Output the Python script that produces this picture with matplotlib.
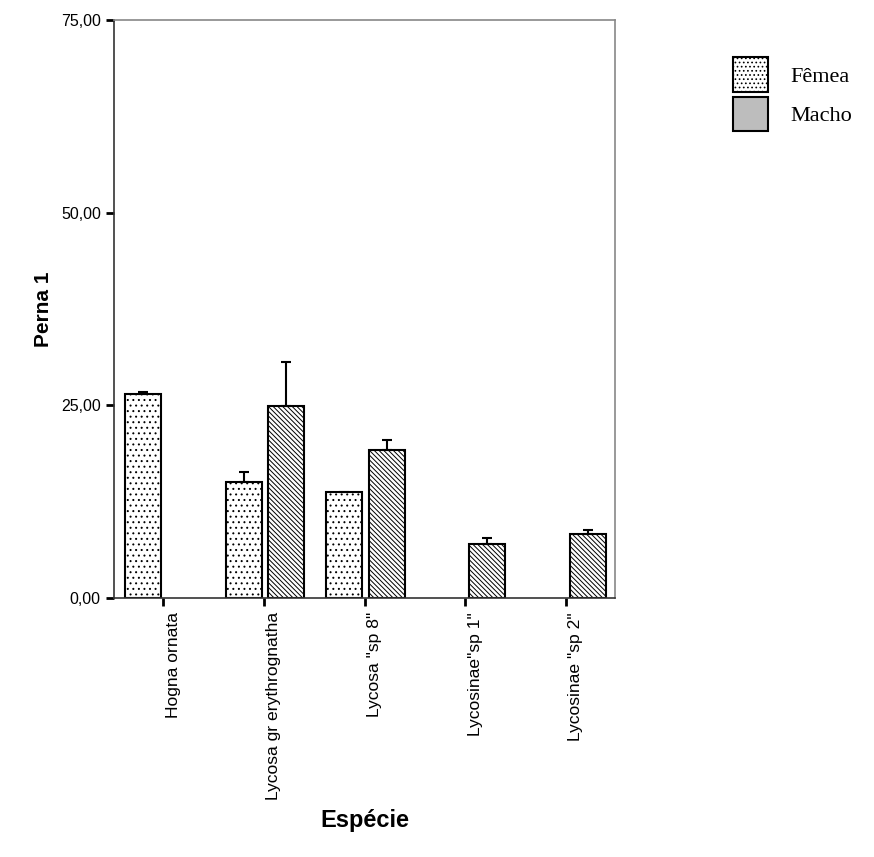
import numpy as np
import matplotlib
matplotlib.use("Agg")
import matplotlib.pyplot as plt
from matplotlib.patches import Patch
import matplotlib.transforms as mtransforms

especies = ["Hogna ornata", "Lycosa gr erythrognatha", 'Lycosa "sp 8"',
            'Lycosinae"sp 1"', 'Lycosinae "sp 2"']
femea = [26.5, 15.0, 13.7, np.nan, np.nan]
femea_err = [0.2, 1.3, np.nan, np.nan, np.nan]
macho = [np.nan, 24.9, 19.2, 7.0, 8.3]
macho_err = [np.nan, 5.7, 1.3, 0.8, 0.5]
yticks = [0, 25, 50, 75]

plt.rcParams["hatch.linewidth"] = 0.7
fig = plt.figure(figsize=(8.74, 8.57), dpi=100)
ax = fig.add_axes([0.1304, 0.3022, 0.5733, 0.6744])

x = np.arange(len(especies))
w = 0.36
xf, xm = x - 0.2, x + 0.22
ax.bar(xf, femea, w, color="white", edgecolor="black", hatch="...", linewidth=1.5)
ax.bar(xm, macho, w, color="white", edgecolor="black", hatch="\\" * 7, linewidth=1.5)
for xs, v, e in [(xf, femea, femea_err), (xm, macho, macho_err)]:
    v = np.array(v); e = np.array(e)
    ax.errorbar(xs, v, yerr=[np.zeros_like(e), e], fmt="none", ecolor="black",
                elinewidth=1.5, capsize=3.5, capthick=1.5)

ax.set_xlim(-0.49, 4.49)
ax.set_ylim(0, 75)
ax.set_yticks(yticks)
ax.set_yticklabels([f"{t:.2f}".replace(".", ",") for t in yticks],
                   fontsize=11.5, family="Liberation Sans")
ax.set_xticks(x)
ax.set_xticklabels([])
off = mtransforms.ScaledTranslation(10 / 100, -14 / 100, fig.dpi_scale_trans)
for xi, name in zip(x, especies):
    ax.text(xi, 0, name, rotation=90, fontsize=12.6, family="Liberation Sans",
            ha="center", va="top",
            transform=ax.get_xaxis_transform() + off)
ax.tick_params(axis="both", direction="out", length=6, width=2, colors="black")
for s in ["left", "bottom"]:
    ax.spines[s].set_color("#333333"); ax.spines[s].set_linewidth(1.2)
for s in ["top", "right"]:
    ax.spines[s].set_color("#888888"); ax.spines[s].set_linewidth(1.2)

ax.set_ylabel("Perna 1", fontsize=15, fontweight="bold", family="Liberation Sans",
              labelpad=6)
fig.text(0.418, 0.043, "Espécie", fontsize=17, fontweight="bold",
         family="Liberation Sans", ha="center", va="center")

handles = [Patch(facecolor="white", edgecolor="black", hatch="....", linewidth=1.5),
           Patch(facecolor="#bdbdbd", edgecolor="black", linewidth=1.5)]
fig.legend(handles, ["Fêmea", "Macho"], loc="upper left",
           bbox_to_anchor=(0.839, 0.933), frameon=False,
           prop={"family": "Liberation Serif", "size": 16},
           handlelength=1.55, handleheight=2.0, labelspacing=0.22,
           handletextpad=1.0, borderpad=0, borderaxespad=0)

fig.savefig("out.png", dpi=100)
